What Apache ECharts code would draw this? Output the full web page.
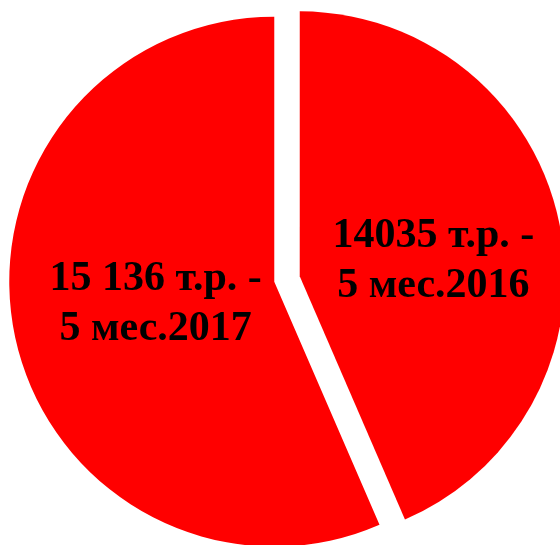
<!DOCTYPE html>
<html>
<head>
<meta charset="utf-8">
<script src="https://cdn.jsdelivr.net/npm/echarts@6/dist/echarts.min.js"></script>
<style>
  html, body { margin: 0; padding: 0; background: #fff; }
  #chart { width: 560px; height: 545px; }
</style>
</head>
<body>
<div id="chart"></div>
<script>
// slice labels as printed on the chart
const periods = ['5 мес.2016', '5 мес.2017']
const amounts = ['14035', '15 136']
const shares = [43.5, 56.5]
// small nudges so the labels sit where the original put them
const labelShift = [[1, 12], [14, -5]]

const chart = echarts.init(document.getElementById('chart'))

const data = shares.map((v, i) => ({
  name: periods[i],
  value: v,
  selected: true,
  label: { formatter: amounts[i] + ' т.р. -\n' + periods[i] }
}))

chart.setOption({
  animation: false,
  series: [{
    type: 'pie',
    center: [287, 279],
    radius: 265,
    startAngle: 90,
    clockwise: true,
    selectedMode: 'multiple',
    selectedOffset: 13,
    avoidLabelOverlap: false,
    itemStyle: { color: '#ff0000', borderWidth: 0 },
    emphasis: { disabled: true },
    label: {
      show: true,
      position: 'inside',
      color: '#000',
      fontFamily: 'Liberation Serif',
      fontWeight: 'bold',
      fontSize: 42,
      lineHeight: 50,
      align: 'center'
    },
    labelLayout: params => ({
      dx: labelShift[params.dataIndex][0],
      dy: labelShift[params.dataIndex][1]
    }),
    labelLine: { show: false },
    data: data
  }]
})
</script>
</body>
</html>
